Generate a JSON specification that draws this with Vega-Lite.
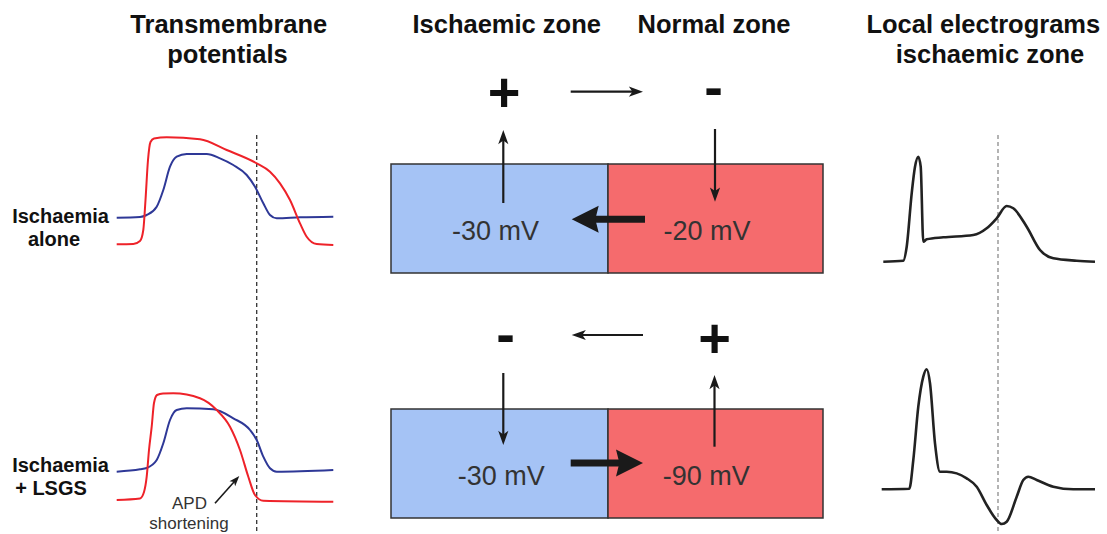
{
  "$schema": "https://vega.github.io/schema/vega-lite/v6.json",
  "width": 1107,
  "height": 534,
  "padding": 0,
  "autosize": {"type": "none"},
  "background": "white",
  "config": {"view": {"stroke": null}},
  "datasets": {
    "boxes": [
      {"row": "alone", "zone": "ischaemic", "x": 391, "x2": 608, "y": 164, "y2": 273},
      {"row": "alone", "zone": "normal", "x": 608, "x2": 823, "y": 164, "y2": 273},
      {"row": "lsgs", "zone": "ischaemic", "x": 391, "x2": 608, "y": 409, "y2": 518},
      {"row": "lsgs", "zone": "normal", "x": 608, "x2": 823, "y": 409, "y2": 518}
    ],
    "guides": [
      {"panel": "ap", "x": 256.7, "y": 135, "y2": 534},
      {"panel": "egm", "x": 998, "y": 135, "y2": 534}
    ],
    "potentials": [
      {"condition": "alone", "zone": "ischaemic", "x": 116.7, "y": 217.7},
      {"condition": "alone", "zone": "ischaemic", "x": 140, "y": 217},
      {"condition": "alone", "zone": "ischaemic", "x": 146.7, "y": 215},
      {"condition": "alone", "zone": "ischaemic", "x": 156.7, "y": 206.7},
      {"condition": "alone", "zone": "ischaemic", "x": 163.3, "y": 190},
      {"condition": "alone", "zone": "ischaemic", "x": 170, "y": 166.7},
      {"condition": "alone", "zone": "ischaemic", "x": 176.7, "y": 156.7},
      {"condition": "alone", "zone": "ischaemic", "x": 186.7, "y": 154},
      {"condition": "alone", "zone": "ischaemic", "x": 206.7, "y": 154},
      {"condition": "alone", "zone": "ischaemic", "x": 220, "y": 158.3},
      {"condition": "alone", "zone": "ischaemic", "x": 233.3, "y": 165},
      {"condition": "alone", "zone": "ischaemic", "x": 246.7, "y": 175},
      {"condition": "alone", "zone": "ischaemic", "x": 255, "y": 186.7},
      {"condition": "alone", "zone": "ischaemic", "x": 263.3, "y": 203.3},
      {"condition": "alone", "zone": "ischaemic", "x": 270, "y": 215},
      {"condition": "alone", "zone": "ischaemic", "x": 276.7, "y": 218.3},
      {"condition": "alone", "zone": "ischaemic", "x": 300, "y": 217.3},
      {"condition": "alone", "zone": "ischaemic", "x": 333.3, "y": 216.7},
      {"condition": "alone", "zone": "normal", "x": 116.7, "y": 244.3},
      {"condition": "alone", "zone": "normal", "x": 133.3, "y": 244},
      {"condition": "alone", "zone": "normal", "x": 140, "y": 241},
      {"condition": "alone", "zone": "normal", "x": 143.3, "y": 230},
      {"condition": "alone", "zone": "normal", "x": 145.5, "y": 200},
      {"condition": "alone", "zone": "normal", "x": 148, "y": 160},
      {"condition": "alone", "zone": "normal", "x": 150.5, "y": 142},
      {"condition": "alone", "zone": "normal", "x": 154, "y": 138.5},
      {"condition": "alone", "zone": "normal", "x": 166.7, "y": 137.3},
      {"condition": "alone", "zone": "normal", "x": 200, "y": 139.3},
      {"condition": "alone", "zone": "normal", "x": 226.7, "y": 150},
      {"condition": "alone", "zone": "normal", "x": 256.7, "y": 163.3},
      {"condition": "alone", "zone": "normal", "x": 270, "y": 171.7},
      {"condition": "alone", "zone": "normal", "x": 280, "y": 183.3},
      {"condition": "alone", "zone": "normal", "x": 290, "y": 200},
      {"condition": "alone", "zone": "normal", "x": 300, "y": 223.3},
      {"condition": "alone", "zone": "normal", "x": 306.7, "y": 236.7},
      {"condition": "alone", "zone": "normal", "x": 316.7, "y": 244},
      {"condition": "alone", "zone": "normal", "x": 333.3, "y": 245},
      {"condition": "lsgs", "zone": "ischaemic", "x": 116.7, "y": 471.7},
      {"condition": "lsgs", "zone": "ischaemic", "x": 140, "y": 469.3},
      {"condition": "lsgs", "zone": "ischaemic", "x": 146.7, "y": 468},
      {"condition": "lsgs", "zone": "ischaemic", "x": 156.7, "y": 460},
      {"condition": "lsgs", "zone": "ischaemic", "x": 163.3, "y": 443.3},
      {"condition": "lsgs", "zone": "ischaemic", "x": 170, "y": 420},
      {"condition": "lsgs", "zone": "ischaemic", "x": 176.7, "y": 410},
      {"condition": "lsgs", "zone": "ischaemic", "x": 186.7, "y": 408.3},
      {"condition": "lsgs", "zone": "ischaemic", "x": 213.3, "y": 409.3},
      {"condition": "lsgs", "zone": "ischaemic", "x": 233.3, "y": 418.3},
      {"condition": "lsgs", "zone": "ischaemic", "x": 250, "y": 430},
      {"condition": "lsgs", "zone": "ischaemic", "x": 256.7, "y": 440},
      {"condition": "lsgs", "zone": "ischaemic", "x": 263.3, "y": 456.7},
      {"condition": "lsgs", "zone": "ischaemic", "x": 270, "y": 468.3},
      {"condition": "lsgs", "zone": "ischaemic", "x": 276.7, "y": 471.7},
      {"condition": "lsgs", "zone": "ischaemic", "x": 333.3, "y": 470},
      {"condition": "lsgs", "zone": "normal", "x": 116.7, "y": 500},
      {"condition": "lsgs", "zone": "normal", "x": 140, "y": 498.5},
      {"condition": "lsgs", "zone": "normal", "x": 144, "y": 492},
      {"condition": "lsgs", "zone": "normal", "x": 146.7, "y": 476.7},
      {"condition": "lsgs", "zone": "normal", "x": 149, "y": 450},
      {"condition": "lsgs", "zone": "normal", "x": 151.7, "y": 426.7},
      {"condition": "lsgs", "zone": "normal", "x": 154, "y": 403},
      {"condition": "lsgs", "zone": "normal", "x": 157, "y": 395},
      {"condition": "lsgs", "zone": "normal", "x": 163, "y": 393.5},
      {"condition": "lsgs", "zone": "normal", "x": 173.3, "y": 393.3},
      {"condition": "lsgs", "zone": "normal", "x": 200, "y": 398.3},
      {"condition": "lsgs", "zone": "normal", "x": 216.7, "y": 410},
      {"condition": "lsgs", "zone": "normal", "x": 230, "y": 426.7},
      {"condition": "lsgs", "zone": "normal", "x": 240, "y": 450},
      {"condition": "lsgs", "zone": "normal", "x": 248.3, "y": 476.7},
      {"condition": "lsgs", "zone": "normal", "x": 255, "y": 495},
      {"condition": "lsgs", "zone": "normal", "x": 263.3, "y": 500.7},
      {"condition": "lsgs", "zone": "normal", "x": 333.3, "y": 501.7}
    ],
    "electrograms": [
      {"condition": "alone", "x": 883.3, "y": 261.7},
      {"condition": "alone", "x": 903.3, "y": 260.7},
      {"condition": "alone", "x": 906.7, "y": 246.7},
      {"condition": "alone", "x": 911.7, "y": 193.3},
      {"condition": "alone", "x": 915, "y": 166.7},
      {"condition": "alone", "x": 918.3, "y": 156.7},
      {"condition": "alone", "x": 920.7, "y": 166.7},
      {"condition": "alone", "x": 923.3, "y": 241.7},
      {"condition": "alone", "x": 926.7, "y": 239.3},
      {"condition": "alone", "x": 943.3, "y": 237.3},
      {"condition": "alone", "x": 973.3, "y": 235},
      {"condition": "alone", "x": 986.7, "y": 228.3},
      {"condition": "alone", "x": 996.7, "y": 218.3},
      {"condition": "alone", "x": 1006.7, "y": 206},
      {"condition": "alone", "x": 1013.3, "y": 208.3},
      {"condition": "alone", "x": 1026.7, "y": 226.7},
      {"condition": "alone", "x": 1040, "y": 250},
      {"condition": "alone", "x": 1053.3, "y": 258.3},
      {"condition": "alone", "x": 1076.7, "y": 260.7},
      {"condition": "alone", "x": 1095, "y": 261.7},
      {"condition": "lsgs", "x": 881.7, "y": 489.3},
      {"condition": "lsgs", "x": 909.3, "y": 488.7},
      {"condition": "lsgs", "x": 913.3, "y": 460},
      {"condition": "lsgs", "x": 918.3, "y": 406.7},
      {"condition": "lsgs", "x": 923.3, "y": 376.7},
      {"condition": "lsgs", "x": 926.7, "y": 369.3},
      {"condition": "lsgs", "x": 930, "y": 383.3},
      {"condition": "lsgs", "x": 935, "y": 443.3},
      {"condition": "lsgs", "x": 940, "y": 471.7},
      {"condition": "lsgs", "x": 946.7, "y": 471.7},
      {"condition": "lsgs", "x": 966.7, "y": 478.3},
      {"condition": "lsgs", "x": 976.7, "y": 486.7},
      {"condition": "lsgs", "x": 986.7, "y": 505},
      {"condition": "lsgs", "x": 996.7, "y": 520},
      {"condition": "lsgs", "x": 1001.7, "y": 524},
      {"condition": "lsgs", "x": 1006.7, "y": 521.7},
      {"condition": "lsgs", "x": 1016.7, "y": 496.7},
      {"condition": "lsgs", "x": 1023.3, "y": 480},
      {"condition": "lsgs", "x": 1028.3, "y": 476.7},
      {"condition": "lsgs", "x": 1036.7, "y": 480},
      {"condition": "lsgs", "x": 1053.3, "y": 486.7},
      {"condition": "lsgs", "x": 1073.3, "y": 489.3},
      {"condition": "lsgs", "x": 1095, "y": 489.3}
    ],
    "arrows": [
      {"meaning": "extracellular current alone", "kind": "thin", "x1": 570.7, "y1": 91.7, "x2": 643, "y2": 91.7},
      {"meaning": "outward ischaemic alone", "kind": "thin", "x1": 503.3, "y1": 203, "x2": 503.3, "y2": 130},
      {"meaning": "inward normal alone", "kind": "thin", "x1": 715, "y1": 129, "x2": 715, "y2": 201.7},
      {"meaning": "injury current alone", "kind": "thick", "x1": 645, "y1": 219.3, "x2": 571.7, "y2": 219.3},
      {"meaning": "extracellular current lsgs", "kind": "thin", "x1": 643, "y1": 335, "x2": 571.7, "y2": 335},
      {"meaning": "inward ischaemic lsgs", "kind": "thin", "x1": 503.3, "y1": 373, "x2": 503.3, "y2": 445},
      {"meaning": "outward normal lsgs", "kind": "thin", "x1": 714.5, "y1": 446.7, "x2": 714.5, "y2": 375},
      {"meaning": "injury current lsgs", "kind": "thick", "x1": 570.7, "y1": 463, "x2": 643, "y2": 463},
      {"meaning": "APD shortening", "kind": "small", "x1": 215, "y1": 503.3, "x2": 239.3, "y2": 476}
    ],
    "labels": [
      {"role": "heading", "text": "Transmembrane", "x": 228.8, "y": 33},
      {"role": "heading", "text": "potentials", "x": 227.5, "y": 63},
      {"role": "heading", "text": "Ischaemic zone", "x": 506.7, "y": 33},
      {"role": "heading", "text": "Normal zone", "x": 714, "y": 33},
      {"role": "heading", "text": "Local electrograms", "x": 983.3, "y": 33},
      {"role": "heading", "text": "ischaemic zone", "x": 990, "y": 63},
      {"role": "side", "text": "Ischaemia", "x": 60.5, "y": 223.3},
      {"role": "side", "text": "alone", "x": 54, "y": 245.5},
      {"role": "side", "text": "Ischaemia", "x": 60.5, "y": 471.7},
      {"role": "side", "text": "+ LSGS", "x": 51, "y": 495},
      {"role": "sign", "text": "+", "x": 504.2, "y": 111},
      {"role": "sign", "text": "-", "x": 713.7, "y": 106.3},
      {"role": "sign", "text": "-", "x": 505.7, "y": 353},
      {"role": "sign", "text": "+", "x": 714.7, "y": 357.3},
      {"role": "mv", "text": "-30 mV", "x": 495.5, "y": 240},
      {"role": "mv", "text": "-20 mV", "x": 707, "y": 240},
      {"role": "mv", "text": "-30 mV", "x": 501.3, "y": 485},
      {"role": "mv", "text": "-90 mV", "x": 706.3, "y": 485},
      {"role": "note", "text": "APD", "x": 189.5, "y": 509},
      {"role": "note", "text": "shortening", "x": 189, "y": 528.5}
    ]
  },
  "layer": [
    {
      "data": {"name": "boxes"},
      "mark": {"type": "rect", "stroke": "#333333", "strokeWidth": 1.5},
      "encoding": {
        "x": {"field": "x", "type": "quantitative", "scale": {"domain": [0, 1107], "nice": false, "zero": false}, "axis": null},
        "x2": {"field": "x2"},
        "y": {"field": "y", "type": "quantitative", "scale": {"domain": [0, 534], "nice": false, "zero": false, "reverse": true}, "axis": null},
        "y2": {"field": "y2"},
        "fill": {"field": "zone", "type": "nominal", "scale": {"domain": ["ischaemic", "normal"], "range": ["#a5c3f5", "#f56b6d"]}, "legend": null}
      }
    },
    {
      "data": {"name": "guides"},
      "mark": {"type": "rule", "strokeDash": [4, 3], "strokeWidth": 1.3},
      "encoding": {
        "x": {"field": "x", "type": "quantitative", "axis": null},
        "y": {"field": "y", "type": "quantitative", "axis": null},
        "y2": {"field": "y2"},
        "stroke": {"field": "panel", "type": "nominal", "scale": {"domain": ["ap", "egm"], "range": ["#333333", "#8c8c8c"]}, "legend": null}
      }
    },
    {
      "data": {"name": "potentials"},
      "mark": {"type": "line", "strokeWidth": 2, "interpolate": "monotone"},
      "encoding": {
        "x": {"field": "x", "type": "quantitative", "axis": null},
        "y": {"field": "y", "type": "quantitative", "axis": null},
        "detail": {"field": "condition", "type": "nominal"},
        "color": {"field": "zone", "type": "nominal", "scale": {"domain": ["ischaemic", "normal"], "range": ["#2e3897", "#ee2229"]}, "legend": null}
      }
    },
    {
      "data": {"name": "electrograms"},
      "mark": {"type": "line", "strokeWidth": 2.6, "interpolate": "monotone", "color": "#222222"},
      "encoding": {
        "x": {"field": "x", "type": "quantitative", "axis": null},
        "y": {"field": "y", "type": "quantitative", "axis": null},
        "detail": {"field": "condition", "type": "nominal"}
      }
    },
    {
      "data": {"name": "arrows"},
      "transform": [
        {"calculate": "sqrt(pow(datum.x2 - datum.x1, 2) + pow(datum.y2 - datum.y1, 2))", "as": "len"},
        {"calculate": "datum.kind === 'thick' ? 22 : (datum.kind === 'small' ? 6 : 10)", "as": "back"},
        {"calculate": "datum.x2 - datum.back * (datum.x2 - datum.x1) / datum.len", "as": "sx2"},
        {"calculate": "datum.y2 - datum.back * (datum.y2 - datum.y1) / datum.len", "as": "sy2"}
      ],
      "mark": {"type": "rule", "color": "#1a1a1a", "strokeCap": "butt"},
      "encoding": {
        "x": {"field": "x1", "type": "quantitative", "axis": null},
        "y": {"field": "y1", "type": "quantitative", "axis": null},
        "x2": {"field": "sx2"},
        "y2": {"field": "sy2"},
        "strokeWidth": {"condition": [{"test": "datum.kind === 'thick'", "value": 7}, {"test": "datum.kind === 'small'", "value": 1.6}], "value": 2.2}
      }
    },
    {
      "data": {"name": "arrows"},
      "transform": [
        {"calculate": "atan2(datum.y2 - datum.y1, datum.x2 - datum.x1) * 180 / PI", "as": "heading"}
      ],
      "mark": {"type": "point", "filled": true, "color": "#1a1a1a", "opacity": 1, "strokeWidth": 0},
      "encoding": {
        "x": {"field": "x2", "type": "quantitative", "axis": null},
        "y": {"field": "y2", "type": "quantitative", "axis": null},
        "angle": {"field": "heading", "type": "quantitative", "scale": null},
        "shape": {"condition": [{"test": "datum.kind === 'thick'", "value": "M0,0L-2,-1L-1.75,0L-2,1Z"}], "value": "M0,0L-2,-0.72L-1.5,0L-2,0.72Z"},
        "size": {"condition": [{"test": "datum.kind === 'thick'", "value": 729}, {"test": "datum.kind === 'small'", "value": 110}], "value": 200}
      }
    },
    {
      "data": {"name": "labels"},
      "transform": [{"filter": "datum.role === 'heading'"}],
      "mark": {"type": "text", "font": "Liberation Sans", "fontWeight": "bold", "fontSize": 25.5, "align": "center", "baseline": "alphabetic", "color": "#111111"},
      "encoding": {
        "x": {"field": "x", "type": "quantitative", "axis": null},
        "y": {"field": "y", "type": "quantitative", "axis": null},
        "text": {"field": "text"}
      }
    },
    {
      "data": {"name": "labels"},
      "transform": [{"filter": "datum.role === 'side'"}],
      "mark": {"type": "text", "font": "Liberation Sans", "fontWeight": "bold", "fontSize": 20, "align": "center", "baseline": "alphabetic", "color": "#111111"},
      "encoding": {
        "x": {"field": "x", "type": "quantitative", "axis": null},
        "y": {"field": "y", "type": "quantitative", "axis": null},
        "text": {"field": "text"}
      }
    },
    {
      "data": {"name": "labels"},
      "transform": [{"filter": "datum.role === 'sign'"}],
      "mark": {"type": "text", "font": "Liberation Sans", "fontWeight": "bold", "fontSize": 56, "align": "center", "baseline": "alphabetic", "color": "#111111"},
      "encoding": {
        "x": {"field": "x", "type": "quantitative", "axis": null},
        "y": {"field": "y", "type": "quantitative", "axis": null},
        "text": {"field": "text"}
      }
    },
    {
      "data": {"name": "labels"},
      "transform": [{"filter": "datum.role === 'mv'"}],
      "mark": {"type": "text", "font": "Liberation Sans", "fontSize": 27, "align": "center", "baseline": "alphabetic", "color": "#333333"},
      "encoding": {
        "x": {"field": "x", "type": "quantitative", "axis": null},
        "y": {"field": "y", "type": "quantitative", "axis": null},
        "text": {"field": "text"}
      }
    },
    {
      "data": {"name": "labels"},
      "transform": [{"filter": "datum.role === 'note'"}],
      "mark": {"type": "text", "font": "Liberation Sans", "fontSize": 17, "align": "center", "baseline": "alphabetic", "color": "#333333"},
      "encoding": {
        "x": {"field": "x", "type": "quantitative", "axis": null},
        "y": {"field": "y", "type": "quantitative", "axis": null},
        "text": {"field": "text"}
      }
    }
  ]
}
